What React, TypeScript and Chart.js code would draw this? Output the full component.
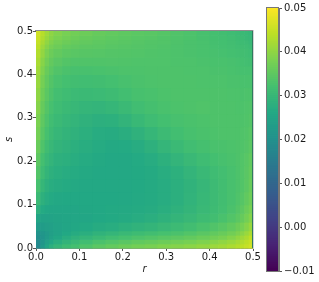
import React, { useEffect, useRef } from "react";
import { Chart, registerables } from "chart.js";

Chart.register(...registerables);

const cellEdges = [0, 0.01, 0.02, 0.03, 0.04, 0.06, 0.08, 0.1, 0.13, 0.16, 0.19, 0.22, 0.25, 0.28, 0.31, 0.34, 0.37, 0.4, 0.42, 0.44, 0.46, 0.47, 0.48, 0.49, 0.5];
const axisTicks = [0, 0.1, 0.2, 0.3, 0.4, 0.5];
const barTicks = [-0.01, 0, 0.01, 0.02, 0.03, 0.04, 0.05];
const viridisStops = ["#440154", "#482475", "#414487", "#355f8d", "#2a788e", "#21918c", "#22a884", "#44bf70", "#7ad151", "#bddf26", "#fde725"];
const valueMin = -0.01;
const valueMax = 0.05;

// values in units of 0.0001, rows from s = 0 upward, columns from r = 0 rightward
const field = [
  [180,222,255,278,295,310,320,332,345,355,365,372,378,385,390,395,402,410,416,424,432,440,448,458],
  [185,212,238,258,275,290,302,315,328,336,344,352,358,364,370,376,384,392,400,408,418,428,438,450],
  [195,208,226,243,258,272,284,294,304,314,322,330,336,342,348,354,362,370,378,388,400,412,424,440],
  [205,212,224,236,248,260,268,276,286,294,302,310,316,322,328,336,344,352,360,370,382,394,408,424],
  [225,228,234,240,246,252,258,262,268,273,280,286,292,300,308,316,326,334,342,352,364,376,390,406],
  [250,244,244,246,249,252,254,256,259,262,265,270,276,283,292,300,310,316,326,336,346,358,372,388],
  [282,264,258,256,254,254,256,258,260,262,263,265,268,275,283,292,302,310,318,328,338,348,362,376],
  [305,282,270,264,261,260,259,259,260,260,261,263,266,270,278,288,298,308,316,324,332,340,352,366],
  [322,296,282,273,268,265,263,261,261,261,261,262,265,270,277,286,297,308,316,324,330,336,346,360],
  [336,309,292,282,275,270,267,263,261,261,261,262,265,272,280,291,302,312,318,324,330,336,344,356],
  [348,320,302,291,282,277,272,267,263,261,261,264,270,280,291,302,312,319,323,327,331,335,342,352],
  [360,332,313,300,290,284,277,272,267,263,264,270,282,293,304,314,321,325,327,329,331,333,338,346],
  [372,342,322,308,297,290,284,277,270,268,274,284,296,308,317,323,327,329,331,331,331,333,336,342],
  [380,350,330,315,304,297,291,284,279,280,290,301,311,319,324,327,329,331,331,331,331,331,333,338],
  [390,358,338,322,311,304,299,293,291,296,305,315,321,326,329,331,333,331,331,331,330,330,332,334],
  [398,366,345,330,318,311,306,304,306,310,317,323,326,329,331,331,331,331,331,330,330,328,330,330],
  [406,374,352,337,325,320,316,314,316,320,324,328,330,331,331,331,330,330,330,328,328,326,326,326],
  [414,384,360,345,334,328,324,324,326,328,330,330,331,331,331,330,330,328,328,326,324,322,322,322],
  [422,392,370,354,344,337,333,333,333,334,333,332,332,332,330,330,328,326,326,324,322,320,318,316],
  [430,402,380,364,354,347,343,341,340,338,337,335,333,332,330,328,326,324,322,320,318,316,314,312],
  [438,410,390,374,364,355,351,347,345,342,340,338,335,333,330,328,325,322,320,318,315,313,311,308],
  [446,420,400,384,372,364,358,353,349,346,343,340,337,335,331,328,325,321,319,316,312,310,307,303],
  [452,428,408,392,380,371,364,358,353,349,345,342,340,336,332,329,324,320,318,314,310,307,303,300],
  [458,434,414,398,386,377,370,364,358,353,349,345,343,339,334,330,324,320,316,312,308,305,301,297],
];

function hexToRgb(h: string) {
  return [1, 3, 5].map((i) => parseInt(h.slice(i, i + 2), 16));
}
function viridis(v: number) {
  const t = Math.min(1, Math.max(0, (v - valueMin) / (valueMax - valueMin))) * (viridisStops.length - 1);
  const i = Math.min(viridisStops.length - 2, Math.floor(t));
  const a = hexToRgb(viridisStops[i]);
  const b = hexToRgb(viridisStops[i + 1]);
  const f = t - i;
  const c = a.map((x, k) => Math.round(x + (b[k] - x) * f));
  return `rgb(${c[0]},${c[1]},${c[2]})`;
}

const FONT = "'DejaVu Sans'";
const TEXT = "#1a1a1a";

const heatPlugin = {
  id: "heat",
  beforeDatasetsDraw(chart: any) {
    const { ctx, scales } = chart;
    const xs = scales.x;
    const ys = scales.y;
    field.forEach((row, j) => {
      row.forEach((val, i) => {
        const x0 = xs.getPixelForValue(cellEdges[i]);
        const x1 = xs.getPixelForValue(cellEdges[i + 1]);
        const y0 = ys.getPixelForValue(cellEdges[j + 1]);
        const y1 = ys.getPixelForValue(cellEdges[j]);
        ctx.fillStyle = viridis(val / 10000);
        ctx.fillRect(x0, y0, x1 - x0 + 0.6, y1 - y0 + 0.6);
      });
    });
    const a = chart.chartArea;
    ctx.fillStyle = "#8c8c8c";
    ctx.fillRect(a.left - 1, a.top - 1, a.right - a.left + 1, 1);
    ctx.fillStyle = "#2f7a5e";
    ctx.fillRect(a.right - 1, a.top, 1, a.bottom - a.top);
    ctx.fillStyle = "#d4d4d4";
    ctx.fillRect(a.right, a.top - 1, 1, a.bottom - a.top + 2);
  },
};

export default function App() {
  const mainRef = useRef<HTMLCanvasElement>(null);
  const barRef = useRef<HTMLCanvasElement>(null);

  useEffect(() => {
    const points: { x: number; y: number }[] = [];
    field.forEach((row, j) =>
      row.forEach((_, i) =>
        points.push({ x: (cellEdges[i] + cellEdges[i + 1]) / 2, y: (cellEdges[j] + cellEdges[j + 1]) / 2 })
      )
    );
    const main = new Chart(mainRef.current as HTMLCanvasElement, {
      type: "scatter",
      data: { datasets: [{ data: points, pointRadius: 0, pointHoverRadius: 0 }] },
      plugins: [heatPlugin],
      options: {
        animation: false,
        responsive: false,
        layout: { padding: { top: 31, right: 66, left: 0, bottom: 0 } },
        plugins: { legend: { display: false }, tooltip: { enabled: false } },
        scales: {
          x: {
            type: "linear",
            min: 0,
            max: 0.5,
            afterBuildTicks(s: any) { s.ticks = axisTicks.map((value) => ({ value })); },
            afterFit(s: any) { s.height = 34; },
            border: { display: true, color: "#8c8c8c", width: 1 },
            grid: { drawOnChartArea: false, tickLength: 3, tickColor: "#555" },
            ticks: { color: TEXT, font: { family: FONT, size: 10 }, padding: 0, maxRotation: 0, callback: (v: any) => Number(v).toFixed(1) },
            title: { display: true, text: "r", color: TEXT, font: { family: FONT, size: 10, style: "italic" }, padding: { top: 0, bottom: 7 } },
          },
          y: {
            type: "linear",
            min: 0,
            max: 0.5,
            afterBuildTicks(s: any) { s.ticks = axisTicks.map((value) => ({ value })); },
            afterFit(s: any) { s.width = 36; },
            border: { display: true, color: "#8c8c8c", width: 1 },
            grid: { drawOnChartArea: false, tickLength: 3, tickColor: "#555" },
            ticks: { color: TEXT, font: { family: FONT, size: 10 }, padding: 0, callback: (v: any) => Number(v).toFixed(1) },
            title: { display: true, text: "s", color: TEXT, font: { family: FONT, size: 10, style: "italic" }, padding: { top: 3, bottom: 0 } },
          },
        },
      } as any,
    });

    const levels: number[] = [];
    for (let k = 0; k < 132; k++) levels.push(valueMin + ((valueMax - valueMin) * k) / 132);
    const step = (valueMax - valueMin) / 132;
    const bar = new Chart(barRef.current as HTMLCanvasElement, {
      type: "bar",
      data: {
        labels: ["c"],
        datasets: levels.map((lo) => ({
          data: [[lo, lo + step * 1.05]],
          backgroundColor: viridis(lo + step / 2),
          borderWidth: 0,
          grouped: false,
          barPercentage: 1,
          categoryPercentage: 1,
        })),
      },
      options: {
        animation: false,
        responsive: false,
        layout: { padding: { top: 7, left: 266, right: 0, bottom: 11 } },
        plugins: { legend: { display: false }, tooltip: { enabled: false } },
        scales: {
          x: { display: false },
          y: {
            type: "linear",
            position: "right",
            min: valueMin,
            max: valueMax,
            afterBuildTicks(s: any) { s.ticks = barTicks.map((value) => ({ value })); },
            afterFit(s: any) { s.width = 40; },
            border: { display: true, color: "#777", width: 1 },
            grid: { drawOnChartArea: false, tickLength: 3, tickColor: "#555" },
            ticks: {
              color: TEXT,
              font: { family: FONT, size: 10 },
              padding: 2,
              callback: (v: any) => (Number(v) < 0 ? "\u2212" : "") + Math.abs(Number(v)).toFixed(2),
            },
          },
        },
      } as any,
      plugins: [
        {
          id: "frame",
          afterDatasetsDraw(chart: any) {
            const { ctx, chartArea: a } = chart;
            ctx.strokeStyle = "#777";
            ctx.lineWidth = 1;
            ctx.strokeRect(a.left + 0.5, a.top - 0.5, a.right - a.left - 1, a.bottom - a.top + 1);
          },
        },
      ],
    });
    return () => {
      main.destroy();
      bar.destroy();
    };
  }, []);

  return (
    <div style={{ position: "absolute", left: 0, top: 0, width: 319, height: 282 }}>
      <canvas ref={mainRef} width={319} height={282} style={{ position: "absolute", left: 0, top: 0 }} />
      <canvas ref={barRef} width={319} height={282} style={{ position: "absolute", left: 0, top: 0 }} />
    </div>
  );
}
